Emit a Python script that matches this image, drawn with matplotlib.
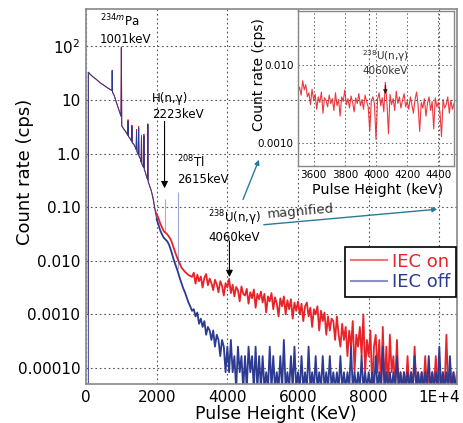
import numpy as np
import matplotlib
matplotlib.use("Agg")
import matplotlib.pyplot as plt
from matplotlib.lines import Line2D

# ---- data ----
# below 2 MeV: (keV, cps), spikes are single channels
low_e = [62, 66, 100, 200, 300, 400, 500, 600, 700, 735, 742, 750, 800, 850, 900,
         950, 990, 1001, 1012, 1050, 1100, 1150, 1180, 1190, 1200, 1250, 1290, 1300,
         1310, 1350, 1400, 1420, 1430, 1440, 1480, 1490, 1500, 1540, 1560, 1570, 1580,
         1630, 1640, 1650, 1680, 1700, 1740, 1750, 1760, 1800, 1850, 1900, 1950]
low_off = [0, 33, 31, 27, 24, 21, 19, 17, 15.5, 15, 35, 14, 12, 9.5, 7.5,
           6.0, 5.0, 95, 3.3, 3.0, 2.7, 2.4, 2.2, 4.0, 2.1, 1.9, 1.7, 3.2,
           1.6, 1.5, 1.3, 1.2, 2.6, 1.1, 0.95, 3.0, 0.9, 0.8, 0.7, 2.0, 0.65,
           0.55, 2.1, 0.5, 0.45, 0.4, 0.33, 3.5, 0.3, 0.25, 0.2, 0.14, 0.09]
low_on = [0.001, 33, 31, 27, 24, 21, 19, 17, 15.5, 15, 36, 14, 12, 9.5, 7.5,
          6.0, 5.0, 98, 3.3, 3.0, 2.7, 2.4, 2.2, 4.3, 2.1, 1.9, 1.7, 3.4,
          1.6, 1.5, 1.3, 1.2, 2.8, 1.1, 0.95, 3.2, 0.9, 0.8, 0.7, 2.2, 0.65,
          0.55, 2.3, 0.5, 0.45, 0.4, 0.33, 3.6, 0.3, 0.25, 0.2, 0.15, 0.095]

# 2000 - 10500 keV on a 50 keV grid, in counts
grid_start = 2000
grid_step = 50
cnt_unit = 8.3e-5  # cps per count
zero_level = 4e-5  # where empty channels are drawn (just under the axis)
on_counts = [900, 750, 600, 505, 430, 400, 375, 335, 300, 240,
             190, 155, 127, 108, 90, 82, 75, 70, 65, 63,
             60, 72, 45, 66, 50, 61, 38, 58, 68, 42,
             56, 46, 34, 53, 44, 31, 50, 41, 27, 46,
             38, 55, 30, 43, 26, 39, 34, 21, 40, 29,
             27, 36, 19, 31, 24, 35, 16, 29, 23, 32,
             20, 29, 13, 26, 21, 30, 15, 25, 19, 11,
             24, 17, 26, 12, 22, 15, 23, 10, 20, 14,
             21, 12, 19, 9, 17, 20, 11, 16, 7, 15,
             12, 17, 6, 14, 9, 13, 5, 11, 6, 10,
             9, 4, 11, 5, 3, 8, 4, 7, 2, 6,
             3, 9, 1, 5, 3, 7, 2, 12, 1, 4,
             2, 6, 0, 3, 5, 1, 4, 0, 7, 0,
             3, 0, 5, 1, 2, 0, 4, 0, 1, 0,
             1, 0, 2, 0, 1, 0, 3, 0, 1, 0,
             1, 0, 2, 0, 1, 0, 1, 0, 2, 0,
             1, 0, 1, 0, 5, 0, 1, 0, 1, 0,
             1]
off_counts = [720, 570, 445, 375, 325, 300, 277, 240, 193, 150,
              116, 94, 75, 58, 46, 37, 31, 25, 20, 17,
              14, 15, 11, 13, 8, 10, 7, 9, 5, 7,
              6, 4, 6, 3, 5, 4, 2, 4, 3, 1,
              3, 1, 4, 1, 2, 0, 3, 1, 2, 0,
              2, 0, 3, 1, 2, 0, 3, 0, 2, 0,
              2, 0, 1, 0, 3, 0, 2, 0, 1, 0,
              2, 0, 4, 0, 1, 0, 2, 0, 3, 0,
              1, 0, 2, 0, 1, 0, 3, 0, 1, 0,
              2, 0, 1, 0, 2, 0, 1, 0, 2, 0,
              1, 0, 1, 0, 2, 0, 1, 0, 1, 0,
              3, 0, 1, 0, 1, 0, 2, 0, 1, 0,
              1, 0, 1, 0, 2, 0, 1, 0, 3, 0,
              1, 0, 1, 0, 1, 0, 2, 0, 1, 0,
              1, 0, 1, 0, 1, 0, 2, 0, 1, 0,
              1, 0, 1, 0, 2, 0, 1, 0, 1, 0,
              3, 0, 1, 0, 1, 0, 2, 0, 1, 0,
              1]

# narrow lines H(n,g) (IEC on) and Tl-208 (IEC off)
line_e = [2223, 2615]
line_base = [0.035, 0.007]
line_top = [0.14, 0.19]

# inset: 3500-4500 keV, 10 keV steps, IEC on, in 1e-3 cps
inset_start = 3500
inset_step = 10
inset_on = [4.6, 5.2, 4.1, 6.3, 4.8, 5.6, 3.9, 4.4, 3.1, 4.9,
            3.6, 4.2, 2.7, 3.9, 3.3, 4.5, 2.4, 3.8, 3.5, 2.9,
            4.1, 3.2, 3.7, 2.6, 4.4, 3.0, 3.6, 2.2, 3.9, 3.4,
            4.8, 3.1, 3.7, 2.8, 4.0, 3.3, 2.5, 3.8, 3.2, 4.3,
            3.0, 3.6, 2.7, 4.1, 3.4, 2.9, 1.4, 3.5, 3.9, 3.2,
            1.1, 3.6, 4.4, 3.0, 3.8, 2.5, 6.0, 3.3, 1.3, 4.2,
            3.1, 3.7, 2.6, 4.6, 3.2, 3.9, 2.8, 3.5, 4.3, 2.9,
            3.4, 2.7, 3.9, 3.1, 2.4, 3.6, 4.5, 3.0, 1.4, 3.3,
            2.8, 3.7, 2.2, 3.2, 3.9, 2.6, 3.4, 1.5, 3.8, 2.9,
            3.3, 2.5, 1.2, 3.6, 2.8, 3.1, 3.9, 2.4, 3.5, 2.7,
            3.2]

xticks = [0, 2000, 4000, 6000, 8000, 10000]
xticklabels = ["0", "2000", "4000", "6000", "8000", "1E+4"]
yticks = [100, 10, 1, 0.1, 0.01, 0.001, 0.0001]
yticklabels = ["$10^2$", "10", "1.0", "0.10", "0.010", "0.0010", "0.00010"]

RED = "#e8232a"
BLUE = "#2c3a92"

# ---- build series ----
grid_e = grid_start + grid_step * np.arange(len(on_counts))
on_grid = np.array(on_counts) * cnt_unit
off_grid = np.array(off_counts) * cnt_unit
on_grid[on_grid == 0] = zero_level
off_grid[off_grid == 0] = zero_level

inset_e = inset_start + inset_step * np.arange(len(inset_on))
inset_v = np.array(inset_on) * 1e-3

fig = plt.figure(figsize=(4.63, 4.23), dpi=100)
ax = fig.add_axes([86 / 463, 1 - 384 / 423, 371 / 463, 375 / 423])

# low part thin, noisy part drawn a bit thicker so it fills like the dense channels
ax.plot(low_e + [grid_e[0]], low_on + [on_grid[0]], color=RED, lw=0.7)
ax.plot(grid_e, on_grid, color=RED, lw=1.3)
ax.plot(low_e + [grid_e[0]], low_off + [off_grid[0]], color=BLUE, lw=0.7)
ax.plot(grid_e, off_grid, color=BLUE, lw=1.3)
ax.vlines(line_e[0], line_base[0], line_top[0], color=RED, lw=0.8, alpha=0.5)
ax.vlines(line_e[1], line_base[1], line_top[1], color=BLUE, lw=0.8, alpha=0.45)

ax.set_yscale("log")
ax.set_xlim(0, 10500)
ax.set_ylim(5e-5, 500)
ax.set_xticks(xticks)
ax.set_xticklabels(xticklabels)
ax.set_yticks(yticks)
ax.set_yticklabels(yticklabels)
ax.minorticks_off()
ax.tick_params(length=0, labelsize=11, pad=4)
ax.grid(True, ls=(0, (1.5, 2.5)), color="#555555", lw=0.8)
for s in ax.spines.values():
    s.set_color("#888888")
    s.set_linewidth(1.2)

fig.text(25 / 463, 1 - 172 / 423, "Count rate (cps)", rotation=90,
         ha="center", va="center", fontsize=13)
fig.text(276 / 463, 1 - 414 / 423, "Pulse Height (KeV)",
         ha="center", va="center", fontsize=12.5)

# annotations
ax.text(400, 420, "$^{234m}$Pa\n1001keV", fontsize=8.5, ha="left", va="top",
        linespacing=1.3)
ax.text(1868, 14, "H(n,\u03b3)\n2223keV", fontsize=8.5, ha="left", va="top",
        linespacing=1.3)
ax.annotate("", xy=(2223, 0.2), xytext=(2223, 4.5),
            arrowprops=dict(arrowstyle="-|>", color="black", lw=0.8, mutation_scale=10))
ax.text(2576, 1.0, "$^{208}$Tl\n2615keV", fontsize=8.5, ha="left", va="top",
        linespacing=1.3)
ax.text(3453, 0.096, "$^{238}$U(n,\u03b3)\n4060keV", fontsize=8.5, ha="left", va="top",
        linespacing=1.3)
ax.annotate("", xy=(4060, 0.0044), xytext=(4060, 0.0265),
            arrowprops=dict(arrowstyle="-|>", color="black", lw=0.8, mutation_scale=10))
TEAL = "#2b7a9b"
ax.annotate("", xy=(4925, 0.86), xytext=(4415, 0.125),
            arrowprops=dict(arrowstyle="-|>", color=TEAL, lw=1.0, mutation_scale=7))
ax.annotate("", xy=(10020, 0.0925), xytext=(4953, 0.0465),
            arrowprops=dict(arrowstyle="-|>", color=TEAL, lw=1.0, mutation_scale=7))
ax.text(6085, 0.083, "magnified", fontsize=9.5, ha="center", va="center",
        rotation=5, color="#333333")

handles = [Line2D([], [], color="#f07878", lw=1.5),
           Line2D([], [], color="#8a93c6", lw=1.5)]
leg = ax.legend(handles, ["IEC on", "IEC off"], loc="upper right",
                bbox_to_anchor=(0.997, 0.365), borderaxespad=0, fontsize=13,
                labelcolor=[RED, BLUE], fancybox=False, framealpha=1,
                edgecolor="black", handlelength=2.0, handletextpad=0.3,
                borderpad=0.3, labelspacing=0.15)
leg.get_frame().set_linewidth(1.2)

# ---- inset ----
axi = fig.add_axes([298 / 463, 1 - 166 / 423, 156 / 463, 155 / 423])
axi.set_facecolor("none")
axi.plot(inset_e, inset_v, color=RED, lw=0.8, alpha=0.9)
axi.set_yscale("log")
axi.set_xlim(3500, 4500)
axi.set_ylim(5e-4, 5e-2)
axi.set_xticks([3600, 3800, 4000, 4200, 4400])
axi.set_yticks([0.01, 0.001])
axi.set_yticklabels(["0.010", "0.0010"])
axi.minorticks_off()
axi.tick_params(length=0, labelsize=7.5, pad=3)
axi.grid(True, ls=(0, (1.5, 2.5)), color="#666666", lw=0.7)
for s in axi.spines.values():
    s.set_color("#888888")
    s.set_linewidth(1.0)
fig.text(378 / 463, 1 - 190 / 423, "Pulse Height (keV)", ha="center", va="center",
         fontsize=10.3)
fig.text(259 / 463, 1 - 75 / 423, "Count rate (cps)", rotation=90,
         ha="center", va="center", fontsize=10)
axi.text(4060, 0.0165, "$^{238}$U(n,\u03b3)\n4060keV", fontsize=7.5, ha="center",
         va="top", color="#333333", linespacing=1.2)
axi.annotate("", xy=(4060, 0.0039), xytext=(4060, 0.006),
             arrowprops=dict(arrowstyle="-|>", color="#222222", lw=0.7, mutation_scale=6))

fig.savefig("out.png", dpi=100)
